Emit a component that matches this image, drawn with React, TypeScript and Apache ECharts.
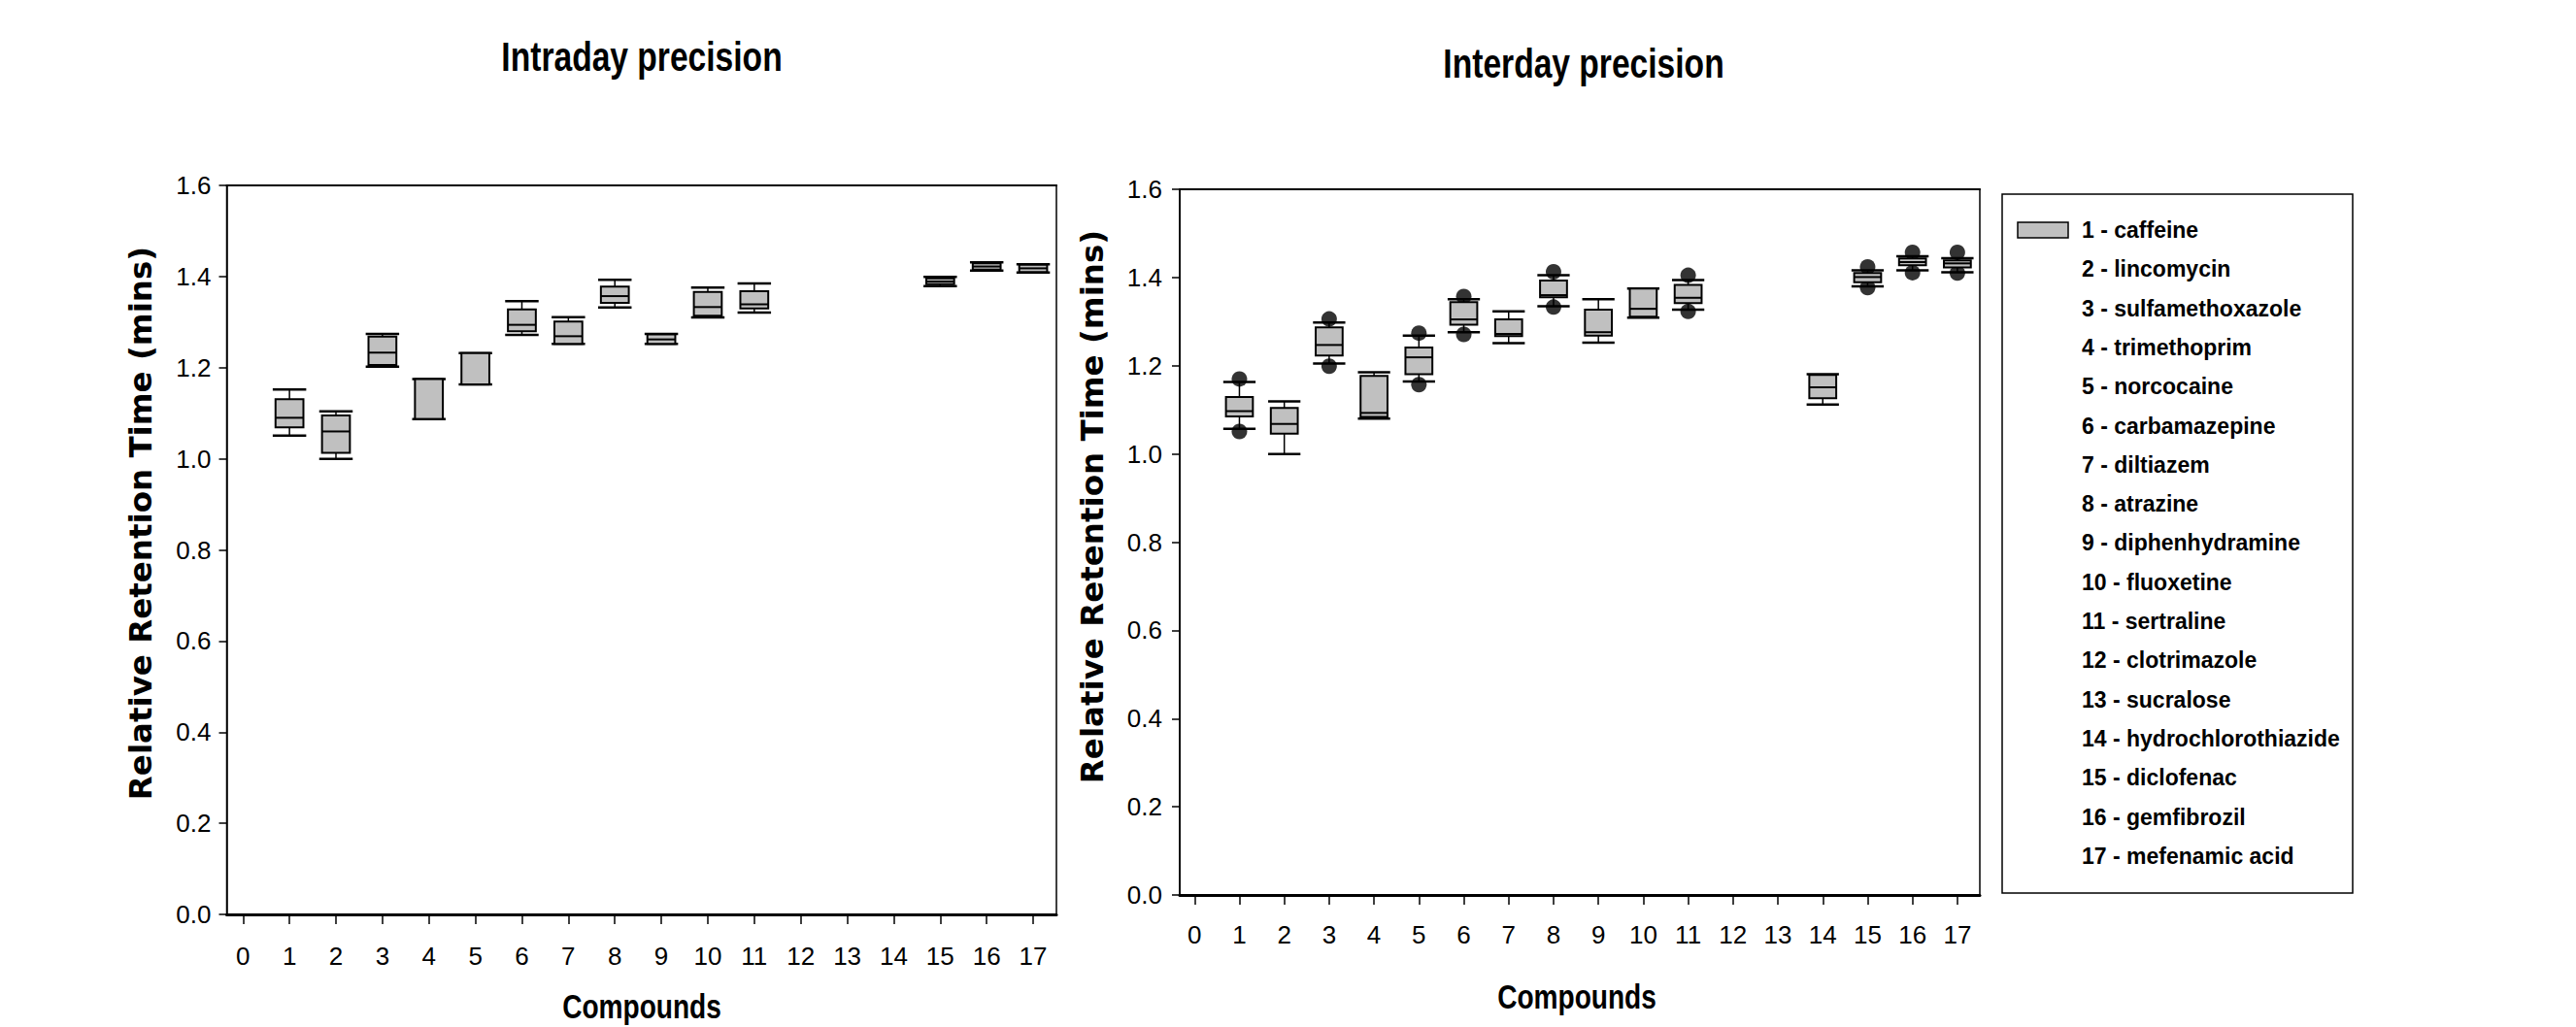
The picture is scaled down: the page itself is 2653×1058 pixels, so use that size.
import React, { useEffect, useRef } from "react";
import * as echarts from "echarts";

const compoundNames = [
  "1 - caffeine",
  "2 - lincomycin",
  "3 - sulfamethoxazole",
  "4 - trimethoprim",
  "5 - norcocaine",
  "6 - carbamazepine",
  "7 - diltiazem",
  "8 - atrazine",
  "9 - diphenhydramine",
  "10 - fluoxetine",
  "11 - sertraline",
  "12 - clotrimazole",
  "13 - sucralose",
  "14 - hydrochlorothiazide",
  "15 - diclofenac",
  "16 - gemfibrozil",
  "17 - mefenamic acid",
];

const xTickValues = [0, 1, 2, 3, 4, 5, 6, 7, 8, 9, 10, 11, 12, 13, 14, 15, 16, 17];

// Intraday precision (box plot statistics)
const intraX = [1, 2, 3, 4, 5, 6, 7, 8, 9, 10, 11, 15, 16, 17];
const intraMin = [1.051, 1.0, 1.202, 1.087, 1.163, 1.272, 1.252, 1.332, 1.252, 1.31, 1.321, 1.379, 1.413, 1.409];
const intraQ1 = [1.069, 1.013, 1.206, 1.087, 1.163, 1.28, 1.252, 1.342, 1.252, 1.314, 1.33, 1.383, 1.415, 1.41];
const intraMed = [1.09, 1.06, 1.233, 1.087, 1.163, 1.294, 1.269, 1.357, 1.262, 1.333, 1.339, 1.389, 1.422, 1.418];
const intraQ3 = [1.131, 1.095, 1.268, 1.175, 1.232, 1.328, 1.301, 1.378, 1.273, 1.366, 1.368, 1.396, 1.429, 1.426];
const intraMax = [1.152, 1.104, 1.274, 1.175, 1.232, 1.346, 1.311, 1.393, 1.274, 1.376, 1.385, 1.399, 1.431, 1.427];

// Interday precision
const interX = [1, 2, 3, 4, 5, 6, 7, 8, 9, 10, 11, 14, 15, 16, 17];
const interMin = [1.057, 1.0, 1.205, 1.08, 1.164, 1.276, 1.251, 1.335, 1.252, 1.309, 1.327, 1.112, 1.38, 1.416, 1.412];
const interQ1 = [1.085, 1.046, 1.223, 1.084, 1.181, 1.293, 1.267, 1.355, 1.268, 1.311, 1.342, 1.126, 1.389, 1.428, 1.423];
const interMed = [1.097, 1.068, 1.247, 1.093, 1.219, 1.305, 1.272, 1.36, 1.276, 1.329, 1.354, 1.151, 1.401, 1.435, 1.432];
const interQ3 = [1.129, 1.104, 1.287, 1.177, 1.241, 1.344, 1.305, 1.393, 1.327, 1.375, 1.383, 1.179, 1.41, 1.443, 1.439];
const interMax = [1.163, 1.119, 1.298, 1.185, 1.268, 1.351, 1.323, 1.405, 1.351, 1.375, 1.394, 1.181, 1.416, 1.448, 1.444];
const interOutLow = [1.051, null, 1.199, null, 1.157, 1.271, null, 1.333, null, null, 1.323, null, 1.377, 1.411, 1.41];
const interOutHigh = [1.17, null, 1.306, null, 1.274, 1.357, null, 1.413, null, null, 1.405, null, 1.424, 1.457, 1.457];

const ARIAL = '"Liberation Sans", Arial, sans-serif';

function renderBox(params: any, api: any) {
  const x = api.value(0);
  const pMin = api.coord([x, api.value(1)]);
  const pQ1 = api.coord([x, api.value(2)]);
  const pMed = api.coord([x, api.value(3)]);
  const pQ3 = api.coord([x, api.value(4)]);
  const pMax = api.coord([x, api.value(5)]);
  const step = api.size([1, 0])[0];
  const bw = step * 0.6;
  const cw = step * 0.72;
  const cx = pMed[0];
  const line = (x1: number, y1: number, x2: number, y2: number, w: number) => ({
    type: "line",
    shape: { x1, y1, x2, y2 },
    style: { stroke: "#000", lineWidth: w },
  });
  return {
    type: "group",
    children: [
      line(cx, pMax[1], cx, pQ3[1], 1.5),
      line(cx, pQ1[1], cx, pMin[1], 1.5),
      line(cx - cw / 2, pMax[1], cx + cw / 2, pMax[1], 2.5),
      line(cx - cw / 2, pMin[1], cx + cw / 2, pMin[1], 2.5),
      {
        type: "rect",
        shape: { x: cx - bw / 2, y: pQ3[1], width: bw, height: Math.max(pQ1[1] - pQ3[1], 0.5) },
        style: { fill: "#c0c0c0", stroke: "#000", lineWidth: 2 },
      },
      line(cx - bw / 2, pMed[1], cx + bw / 2, pMed[1], 2),
    ],
  };
}

function makeAxes(idx: number, min: number, max: number, labelMargin: number, yLabelMargin: number) {
  const xBottom = {
    type: "value",
    gridIndex: idx,
    position: "bottom",
    min,
    max,
    axisLine: { show: true, onZero: false, lineStyle: { color: "#000", width: 3 } },
    axisTick: { show: true, inside: false, length: 10, customValues: xTickValues, lineStyle: { color: "#000", width: 1.5 } },
    axisLabel: { show: true, margin: labelMargin, customValues: xTickValues, color: "#000", fontSize: 26, fontFamily: ARIAL },
    splitLine: { show: false },
  };
  const xTop = {
    type: "value",
    gridIndex: idx,
    position: "top",
    min,
    max,
    axisLine: { show: true, onZero: false, lineStyle: { color: "#000", width: 2 } },
    axisTick: { show: false },
    axisLabel: { show: false },
    splitLine: { show: false },
  };
  const y = {
    type: "value",
    gridIndex: idx,
    position: "left",
    min: 0,
    max: 1.6,
    interval: 0.2,
    axisLine: { show: true, onZero: false, lineStyle: { color: "#000", width: 1.5 } },
    axisTick: { show: true, inside: false, length: 8, lineStyle: { color: "#000", width: 1.5 } },
    axisLabel: {
      margin: yLabelMargin,
      color: "#000",
      fontSize: 26,
      fontFamily: ARIAL,
      formatter: (v: number) => v.toFixed(1),
    },
    splitLine: { show: false },
  };
  return { xBottom, xTop, y };
}

function narrowText(text: string, x: number, y: number, size: number, sx: number) {
  return {
    type: "text",
    x,
    y,
    scaleX: sx,
    style: {
      text,
      fill: "#000",
      fontSize: size,
      fontWeight: "bold",
      fontFamily: ARIAL,
      align: "center",
      verticalAlign: "middle",
    },
  };
}

function yName(x: number, y: number) {
  return {
    type: "text",
    x,
    y,
    rotation: Math.PI / 2,
    style: {
      text: "Relative Retention Time (mins)",
      fill: "#000",
      fontSize: 32.5,
      fontWeight: "bold",
      fontFamily: '"DejaVu Sans", sans-serif',
      align: "center",
      verticalAlign: "middle",
    },
  };
}

export default function App() {
  const ref = useRef<HTMLDivElement>(null);
  useEffect(() => {
    if (!ref.current) return;
    const chart = echarts.init(ref.current, null, { renderer: "svg" });

    const intraData = intraX.map((x, i) => [x, intraMin[i], intraQ1[i], intraMed[i], intraQ3[i], intraMax[i]]);
    const interData = interX.map((x, i) => [x, interMin[i], interQ1[i], interMed[i], interQ3[i], interMax[i]]);
    const outliers: number[][] = [];
    interX.forEach((x, i) => {
      if (interOutLow[i] != null) outliers.push([x, interOutLow[i] as number]);
      if (interOutHigh[i] != null) outliers.push([x, interOutHigh[i] as number]);
    });

    const left = makeAxes(0, -0.35, 17.5, 30, 16);
    const right = makeAxes(1, -0.33, 17.5, 28, 18);

    const legendX = 2062;
    const legendY = 200;
    const rowStart = 237;
    const rowGap = 40.3;

    const legendGraphics: any[] = [
      {
        type: "rect",
        shape: { x: legendX, y: legendY, width: 361, height: 720 },
        style: { fill: "#fff", stroke: "#000", lineWidth: 1.5 },
      },
      {
        type: "rect",
        shape: { x: 2078, y: rowStart - 8, width: 52, height: 16 },
        style: { fill: "#c0c0c0", stroke: "#000", lineWidth: 1.5 },
      },
      ...compoundNames.map((name, i) => ({
        type: "text",
        x: 2144,
        y: rowStart + i * rowGap,
        style: {
          text: name,
          fill: "#000",
          fontSize: 23,
          fontWeight: "bold",
          fontFamily: ARIAL,
          verticalAlign: "middle",
          align: "left",
        },
      })),
    ];

    const textGraphics: any[] = [
      narrowText("Intraday precision", 661, 59, 42, 0.8),
      narrowText("Interday precision", 1631, 66, 42, 0.8),
      yName(145, 539),
      yName(1125, 522),
      narrowText("Compounds", 661, 1037, 36, 0.78),
      narrowText("Compounds", 1624, 1027, 36, 0.78),
    ];

    const option: any = {
      animation: false,
      backgroundColor: "#fff",
      grid: [
        { left: 233.5, top: 191, width: 854.5, height: 751, show: true, borderColor: "#000", borderWidth: 1.5, backgroundColor: "transparent" },
        { left: 1215, top: 195, width: 824, height: 727, show: true, borderColor: "#000", borderWidth: 1.5, backgroundColor: "transparent" },
      ],
      xAxis: [left.xBottom, right.xBottom, left.xTop, right.xTop],
      yAxis: [left.y, right.y],
      graphic: [...textGraphics, ...legendGraphics],
      series: [
        {
          type: "custom",
          name: "Intraday",
          xAxisIndex: 0,
          yAxisIndex: 0,
          renderItem: renderBox,
          encode: { x: 0, y: [1, 2, 3, 4, 5] },
          data: intraData,
          z: 3,
        },
        {
          type: "custom",
          name: "Interday",
          xAxisIndex: 1,
          yAxisIndex: 1,
          renderItem: renderBox,
          encode: { x: 0, y: [1, 2, 3, 4, 5] },
          data: interData,
          z: 3,
        },
        {
          type: "scatter",
          name: "Interday outliers",
          xAxisIndex: 1,
          yAxisIndex: 1,
          symbol: "circle",
          symbolSize: 16,
          itemStyle: { color: "#000" },
          data: outliers,
          z: 2,
        },
      ],
    };
    chart.setOption(option);
    return () => chart.dispose();
  }, []);

  return (
    <div
      ref={ref}
      style={{ position: "fixed", left: 0, top: 0, width: 2653, height: 1058, background: "#fff" }}
    />
  );
}
